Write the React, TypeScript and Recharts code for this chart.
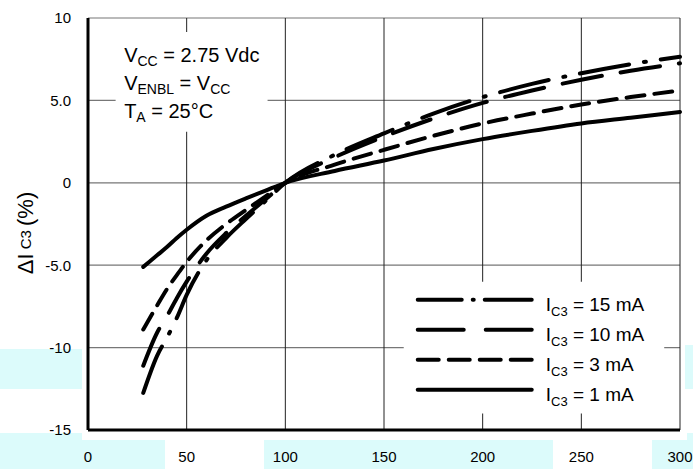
import React from 'react';
import { LineChart, Line, XAxis, YAxis, CartesianGrid, ReferenceArea } from 'recharts';

const FONT = "'Liberation Sans', Arial, Helvetica, sans-serif";

const xValues = [28, 35, 40, 45, 50, 60, 70, 80, 90, 100, 125, 150, 175, 200, 225, 250, 275, 300];

// ΔI_C3 (%) per collector current
const ic1mA = [-5.1, -4.4, -3.9, -3.35, -2.85, -2.0, -1.45, -0.95, -0.47, 0, 0.72, 1.35, 2.05, 2.65, 3.15, 3.6, 3.95, 4.3];
const ic3mA = [-8.9, -7.45, -6.45, -5.6, -4.8, -3.5, -2.5, -1.65, -0.82, 0, 1.1, 2.0, 2.85, 3.6, 4.2, 4.75, 5.2, 5.6];
const ic10mA = [-11.1, -9.1, -8.1, -7.0, -6.0, -4.3, -3.05, -2.0, -1.0, 0, 1.55, 2.8, 3.9, 4.85, 5.6, 6.25, 6.8, 7.25];
const ic15mA = [-12.75, -10.5, -9.4, -8.2, -6.8, -4.7, -3.35, -2.2, -1.1, 0, 1.7, 3.0, 4.2, 5.2, 6.0, 6.65, 7.2, 7.65];

const xTicks = [0, 50, 100, 150, 200, 250, 300];
const yTicks = [-15, -10, -5, 0, 5, 10];
const yTickLabels = ['-15', '-10', '-5.0', '0', '5.0', '10'];

const legendLabels = ['15 mA', '10 mA', '3 mA', '1 mA'];

const data = xValues.map((x, i) => ({
  x,
  i1: ic1mA[i],
  i3: ic3mA[i],
  i10: ic10mA[i],
  i15: ic15mA[i],
}));

const DASH = {
  i15: '50 15 2 15',
  i10: '40 19',
  i3: '18 10',
  i1: undefined as string | undefined,
};

// light cyan smudges that sit in the scanned picture
const patches = [
  { left: 0, top: 349, width: 82, height: 40 },
  { left: 685, top: 345, width: 8, height: 44 },
  { left: 0, top: 433, width: 82, height: 8 },
  { left: 687, top: 433, width: 6, height: 8 },
  { left: 0, top: 440, width: 165, height: 29 },
  { left: 264, top: 440, width: 289, height: 29 },
  { left: 652, top: 440, width: 41, height: 29 },
];

function NoteLabel(props: any) {
  const vb = props.viewBox || {};
  const x = vb.x + 8.5;
  const y = vb.y;
  const big = 20;
  const sub = 14;
  return (
    <g fontFamily={FONT} fill="#000">
      <text x={x} y={y + 30} fontSize={big}>
        V<tspan fontSize={sub} dy={4}>CC</tspan><tspan dy={-4}> = 2.75 Vdc</tspan>
      </text>
      <text x={x} y={y + 58} fontSize={big}>
        V<tspan fontSize={sub} dy={4}>ENBL</tspan><tspan dy={-4}> = V</tspan><tspan fontSize={sub} dy={4}>CC</tspan>
      </text>
      <text x={x} y={y + 86} fontSize={big}>
        T<tspan fontSize={sub} dy={4}>A</tspan><tspan dy={-4}> = 25°C</tspan>
      </text>
    </g>
  );
}

function LegendLabel(props: any) {
  const vb = props.viewBox || {};
  const x0 = vb.x + 14;
  const x1 = vb.x + 128;
  const tx = vb.x + 142;
  const rows = [
    { key: 'i15', dash: '44 11 1 11 80' },
    { key: 'i10', dash: '46 22' },
    { key: 'i3', dash: '21 10' },
    { key: 'i1', dash: undefined },
  ];
  return (
    <g fontFamily={FONT} fill="#000">
      {rows.map((r, i) => {
        const ly = vb.y + 18 + i * 30;
        return (
          <g key={r.key}>
            <line x1={x0} y1={ly} x2={x1} y2={ly} stroke="#000" strokeWidth={4} strokeLinecap="round" strokeDasharray={r.dash} />
            <text x={tx} y={ly + 11.5} fontSize={19}>
              I<tspan fontSize={13} dy={5}>C3</tspan><tspan dy={-5}> = {legendLabels[i]}</tspan>
            </text>
          </g>
        );
      })}
    </g>
  );
}

function YLabel(props: any) {
  const vb = props.viewBox || {};
  const x = vb.x + 33;
  const y = vb.y + vb.height / 2 + 9;
  return (
    <text x={x} y={y} transform={`rotate(-90 ${x} ${y})`} textAnchor="middle" fontFamily={FONT} fontSize={22} fill="#000">
      ΔI<tspan fontSize={15} dy={-2}> C3 </tspan><tspan dy={2}>(%)</tspan>
    </text>
  );
}

export default function App() {
  return (
    <div style={{ position: 'absolute', left: 0, top: 0, width: 693, height: 469, background: '#fff', overflow: 'hidden' }}>
      {patches.map((p, i) => (
        <div key={i} style={{ position: 'absolute', ...p, background: '#dcfbfb' }} />
      ))}
      <div style={{ position: 'absolute', left: 0, top: 0 }}>
        <LineChart width={693} height={469} data={data} margin={{ top: 18, right: 13, bottom: 0, left: 0 }}>
          <CartesianGrid vertical={false} stroke="#777" strokeWidth={1.2} />
          <CartesianGrid horizontal={false} stroke="#222" strokeWidth={1} />
          <XAxis
            dataKey="x"
            type="number"
            domain={[0, 300]}
            ticks={xTicks}
            height={39}
            tickSize={0}
            tickMargin={21}
            axisLine={{ stroke: '#000', strokeWidth: 3 }}
            tickLine={false}
            tick={{ fontFamily: FONT, fontSize: 15, fill: '#000' }}
            interval={0}
          />
          <YAxis
            type="number"
            domain={[-15, 10]}
            ticks={yTicks}
            width={88}
            tickSize={0}
            tickMargin={17}
            axisLine={{ stroke: '#000', strokeWidth: 3 }}
            tickLine={false}
            tick={{ fontFamily: FONT, fontSize: 15, fill: '#000' }}
            tickFormatter={(v: number) => yTickLabels[yTicks.indexOf(v)]}
            interval={0}
            label={<YLabel />}
          />
          <ReferenceArea x1={14} x2={91} y1={3.1} y2={9.15} fill="#fff" fillOpacity={1} stroke="none" label={<NoteLabel />} />
          <ReferenceArea x1={160} x2={292} y1={-14} y2={-6} fill="#fff" fillOpacity={1} stroke="none" label={<LegendLabel />} />
          <Line type="monotone" dataKey="i1" stroke="#000" strokeWidth={4} strokeLinecap="round" dot={false} isAnimationActive={false} />
          <Line type="monotone" dataKey="i3" stroke="#000" strokeWidth={4} strokeLinecap="round" strokeDasharray={DASH.i3} dot={false} isAnimationActive={false} />
          <Line type="monotone" dataKey="i10" stroke="#000" strokeWidth={4} strokeLinecap="round" strokeDasharray={DASH.i10} dot={false} isAnimationActive={false} />
          <Line type="monotone" dataKey="i15" stroke="#000" strokeWidth={4} strokeLinecap="round" strokeDasharray={DASH.i15} dot={false} isAnimationActive={false} />
        </LineChart>
      </div>
    </div>
  );
}
